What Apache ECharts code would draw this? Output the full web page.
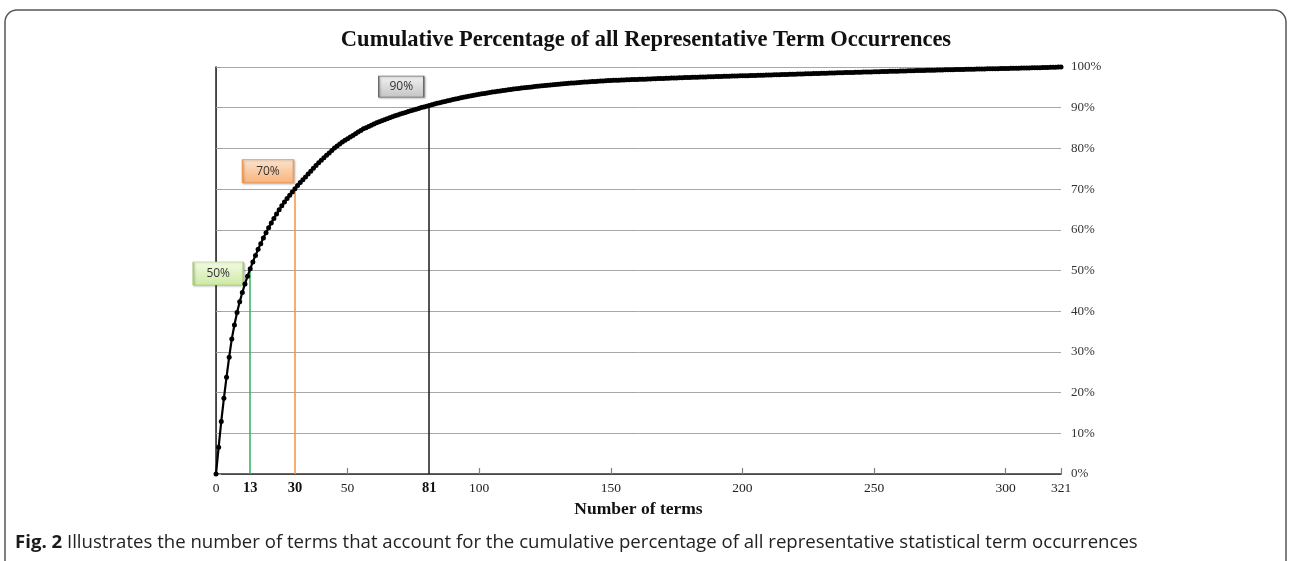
<!DOCTYPE html>
<html>
<head>
<meta charset="utf-8">
<title>Cumulative Percentage of all Representative Term Occurrences</title>
<script src="https://cdn.jsdelivr.net/npm/echarts@6/dist/echarts.min.js"></script>
<style>
  html, body { margin: 0; padding: 0; background: #fff; }
  #chart { width: 1292px; height: 561px; }
</style>
</head>
<body>
<div id="chart"></div>
<script>
// cumulative % of occurrences covered by the first n terms (index = n)
const cumPercent = [
  0, 6.6, 12.9, 18.6, 23.8, 28.7, 33.2, 36.6, 39.7, 42.3,
  44.6, 46.7, 48.6, 50.4, 52.1, 53.7, 55.2, 56.6, 58.0, 59.3,
  60.5, 61.7, 62.8, 63.9, 64.9, 65.9, 66.8, 67.7, 68.5, 69.3,
  70.1, 70.9, 71.6, 72.3, 73.0, 73.7, 74.4, 75.1, 75.8, 76.5,
  77.1, 77.7, 78.3, 78.9, 79.5, 80.1, 80.6, 81.1, 81.6, 82.0,
  82.4, 82.8, 83.2, 83.6, 84.0, 84.4, 84.8, 85.1, 85.4, 85.7,
  86.0, 86.3, 86.55, 86.8, 87.05, 87.3, 87.55, 87.78, 88.0, 88.22,
  88.43, 88.64, 88.85, 89.05, 89.25, 89.45, 89.64, 89.83, 90.02, 90.2,
  90.38, 90.56, 90.73, 90.9, 91.07, 91.23, 91.39, 91.55, 91.7, 91.85,
  92.0, 92.14, 92.28, 92.42, 92.55, 92.68, 92.81, 92.93, 93.05, 93.17,
  93.29, 93.4, 93.51, 93.62, 93.73, 93.83, 93.93, 94.03, 94.13, 94.22,
  94.31, 94.4, 94.49, 94.57, 94.65, 94.73, 94.81, 94.89, 94.97, 95.04,
  95.11, 95.18, 95.25, 95.32, 95.39, 95.46, 95.52, 95.58, 95.64, 95.7,
  95.76, 95.82, 95.88, 95.94, 95.99, 96.04, 96.09, 96.14, 96.19, 96.24,
  96.29, 96.34, 96.38, 96.42, 96.46, 96.5, 96.54, 96.58, 96.62, 96.66,
  96.7, 96.72, 96.75, 96.77, 96.8, 96.82, 96.85, 96.87, 96.9, 96.92,
  96.95, 96.97, 97.0, 97.02, 97.05, 97.07, 97.1, 97.12, 97.15, 97.17,
  97.2, 97.22, 97.25, 97.27, 97.3, 97.32, 97.35, 97.37, 97.4, 97.42,
  97.44, 97.46, 97.48, 97.5, 97.52, 97.54, 97.56, 97.58, 97.6, 97.62,
  97.64, 97.66, 97.68, 97.7, 97.72, 97.74, 97.76, 97.78, 97.8, 97.82,
  97.84, 97.86, 97.88, 97.9, 97.92, 97.94, 97.96, 97.98, 98.0, 98.02,
  98.04, 98.06, 98.08, 98.1, 98.12, 98.14, 98.16, 98.18, 98.2, 98.22,
  98.24, 98.26, 98.28, 98.3, 98.32, 98.34, 98.36, 98.38, 98.4, 98.42,
  98.44, 98.46, 98.48, 98.5, 98.52, 98.54, 98.56, 98.58, 98.6, 98.62,
  98.64, 98.66, 98.67, 98.69, 98.71, 98.73, 98.75, 98.76, 98.78, 98.8,
  98.82, 98.84, 98.85, 98.87, 98.89, 98.91, 98.93, 98.94, 98.96, 98.98,
  99.0, 99.02, 99.03, 99.05, 99.07, 99.09, 99.11, 99.12, 99.14, 99.16,
  99.18, 99.2, 99.21, 99.23, 99.25, 99.27, 99.29, 99.3, 99.32, 99.33,
  99.35, 99.36, 99.38, 99.39, 99.41, 99.42, 99.44, 99.45, 99.47, 99.48,
  99.5, 99.51, 99.53, 99.54, 99.56, 99.57, 99.59, 99.6, 99.62, 99.63,
  99.65, 99.66, 99.68, 99.69, 99.71, 99.72, 99.74, 99.75, 99.77, 99.78,
  99.8, 99.81, 99.83, 99.84, 99.86, 99.88, 99.9, 99.92, 99.94, 99.96,
  99.98, 100
];

// x axis ticks / labels
const xTickValues = [0, 50, 100, 150, 200, 250, 300, 321];
const markedTerms = [13, 30, 81];
const markedPercents = [50, 70, 90];
const markedLabels = ['50%', '70%', '90%'];
const xLabelValues = [0, 13, 30, 50, 81, 100, 150, 200, 250, 300, 321];

const serif = '"Liberation Serif", "DejaVu Serif", serif';
const sans = '"Open Sans", "Noto Sans", sans-serif';

const lineColors = ['#2fae5e', '#f7923f', '#1a1a1a'];
const boxFill = [
  ['#f4fbe6', '#cde9a4'],
  ['#fde3cc', '#f8b47c'],
  ['#f2f2f2', '#c4c4c4']
];
const boxBorder = ['#a9d06e', '#f19a52', '#6b6b6b'];
const boxSize = [[50, 23], [51, 23], [45, 21]];
const boxOffset = [[-32, 3], [-27, -18], [-28, -21]];

const chart = echarts.init(document.getElementById('chart'));

const seriesData = cumPercent.map((v, i) => [i, v]);

const option = {
  animation: false,
  backgroundColor: '#fff',
  title: [
    {
      text: 'Cumulative Percentage of all Representative Term Occurrences',
      left: 'center',
      top: 24,
      textStyle: { fontFamily: serif, fontWeight: 'bold', fontSize: 22.5, color: '#111' }
    },
    {
      text: '{b|Fig. 2} Illustrates the number of terms that account for the cumulative percentage of all representative statistical term occurrences',
      left: 10,
      top: 528,
      textStyle: {
        fontFamily: sans,
        fontSize: 18.6,
        fontWeight: 'normal',
        color: '#222',
        rich: {
          b: { fontFamily: sans, fontSize: 18.6, fontWeight: 'bold', color: '#1a1a1a' }
        }
      }
    }
  ],
  graphic: [
    {
      type: 'rect',
      silent: true,
      shape: { x: 5, y: 10, width: 1281, height: 580, r: 12 },
      style: { fill: 'none', stroke: '#555', lineWidth: 1.5 }
    }
  ],
  grid: { left: 216, right: 231, top: 67, bottom: 87, containLabel: false },
  xAxis: [
    {
      type: 'value',
      min: 0,
      max: 321,
      position: 'bottom',
      axisLine: { show: true, lineStyle: { color: '#8c8c8c', width: 1.2 } },
      axisTick: { show: true, inside: true, length: 6, customValues: xTickValues, lineStyle: { color: '#808080', width: 1.2 } },
      axisLabel: {
        customValues: xLabelValues,
        fontFamily: serif,
        fontSize: 13.5,
        color: '#222',
        margin: 7,
        formatter: v => markedTerms.includes(v) ? '{b|' + v + '}' : String(v),
        rich: { b: { fontFamily: serif, fontSize: 14.5, fontWeight: 'bold', color: '#111' } }
      },
      splitLine: { show: false },
      name: 'Number of terms',
      nameLocation: 'middle',
      nameGap: 17,
      nameTextStyle: { fontFamily: serif, fontWeight: 'bold', fontSize: 17.5, color: '#111' }
    },
    {
      type: 'value',
      min: 0,
      max: 321,
      position: 'top',
      axisLine: { show: true, lineStyle: { color: '#333', width: 1.5 } },
      axisTick: { show: false },
      axisLabel: { show: false },
      splitLine: { show: false }
    }
  ],
  yAxis: [
    {
      type: 'value',
      position: 'right',
      min: 0,
      max: 100,
      interval: 10,
      axisLine: { show: true, lineStyle: { color: '#9a9a9a' } },
      axisTick: { show: true, length: 5, lineStyle: { color: '#9a9a9a' } },
      axisLabel: { formatter: '{value}%', fontFamily: serif, fontSize: 13, color: '#333', margin: 10 },
      splitLine: { show: true, lineStyle: { color: '#a8a8a8', width: 1 } }
    },
    {
      type: 'value',
      position: 'left',
      min: 0,
      max: 100,
      axisLine: { show: true, lineStyle: { color: '#222', width: 1.5 } },
      axisTick: { show: false },
      axisLabel: { show: false },
      splitLine: { show: false }
    }
  ],
  series: [
    {
      type: 'line',
      xAxisIndex: 0,
      yAxisIndex: 0,
      data: seriesData,
      showSymbol: true,
      showAllSymbol: true,
      symbol: 'circle',
      symbolSize: 5,
      itemStyle: { color: '#000' },
      lineStyle: { color: '#000', width: 2.2 },
      silent: true,
      z: 5,
      markLine: {
        silent: true,
        symbol: ['none', 'none'],
        label: { show: false },
        data: markedTerms.map((t, i) => [
          { coord: [t, 0], lineStyle: { color: lineColors[i], width: 1.5, type: 'solid' } },
          { coord: [t, markedPercents[i]] }
        ])
      },
      markPoint: {
        silent: true,
        data: markedTerms.map((t, i) => ({
          coord: [t, markedPercents[i]],
          symbol: 'rect',
          symbolSize: boxSize[i],
          symbolOffset: boxOffset[i],
          itemStyle: {
            color: new echarts.graphic.LinearGradient(0, 0, 0, 1, [
              { offset: 0, color: boxFill[i][0] },
              { offset: 1, color: boxFill[i][1] }
            ]),
            borderColor: boxBorder[i],
            borderWidth: 1,
            shadowColor: 'rgba(0,0,0,0.25)',
            shadowBlur: 2,
            shadowOffsetX: 1,
            shadowOffsetY: 1
          },
          label: {
            show: true,
            position: 'inside',
            formatter: markedLabels[i],
            fontFamily: sans,
            fontSize: 12,
            color: '#333'
          }
        }))
      }
    }
  ]
};

chart.setOption(option);
</script>
</body>
</html>
